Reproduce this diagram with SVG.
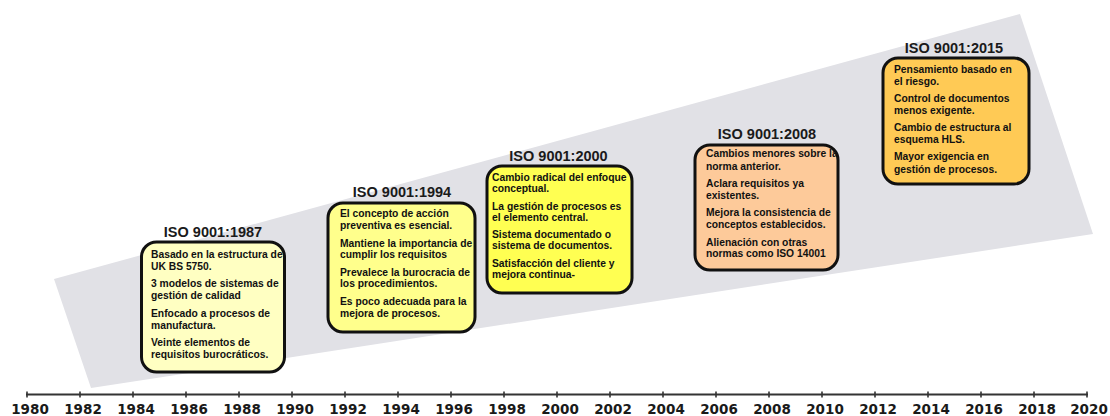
<svg xmlns="http://www.w3.org/2000/svg" width="1110" height="416" viewBox="0 0 1110 416">
<style>
.band{fill:#e1e1e6}
.box{stroke:#111;stroke-width:3}
.title{font-family:"Liberation Sans",Arial,sans-serif;font-weight:bold;font-size:14.5px;fill:#1a1a1a;text-anchor:middle}
.body{font-family:"Liberation Sans",Arial,sans-serif;font-weight:bold;font-size:10.3px;fill:#111}
.axis{stroke:#333;stroke-width:2;fill:none}
.tick{stroke:#333;stroke-width:1.6}
.yr{font-family:"DejaVu Sans",Verdana,sans-serif;font-weight:bold;font-size:13.5px;fill:#1a1a1a;text-anchor:middle}
</style>
<rect width="1110" height="416" fill="#ffffff"/>
<polygon class="band" points="54,279 1020,14 1093,234 91,388"/>

<g id="node-1987">
<text class="title" x="213" y="237">ISO 9001:1987</text>
<rect class="box" x="141.5" y="242" width="143" height="130" rx="15" fill="#ffffc2"/>
<text class="body">
<tspan x="151" y="258">Basado en la estructura de</tspan>
<tspan x="151" y="270">UK BS 5750.</tspan>
<tspan x="151" y="287">3 modelos de sistemas de</tspan>
<tspan x="151" y="299">gestión de calidad</tspan>
<tspan x="151" y="317">Enfocado a procesos de</tspan>
<tspan x="151" y="329">manufactura.</tspan>
<tspan x="151" y="346">Veinte  elementos de</tspan>
<tspan x="151" y="358">requisitos burocráticos.</tspan>
</text>
</g>

<g id="node-1994">
<text class="title" x="402" y="197">ISO 9001:1994</text>
<rect class="box" x="328" y="203" width="147" height="129" rx="15" fill="#ffff8c"/>
<text class="body">
<tspan x="340" y="217">El concepto de acción</tspan>
<tspan x="340" y="229">preventiva es esencial.</tspan>
<tspan x="340" y="247">Mantiene la importancia de</tspan>
<tspan x="340" y="258">cumplir los requisitos</tspan>
<tspan x="340" y="276">Prevalece la burocracia de</tspan>
<tspan x="340" y="287">los procedimientos.</tspan>
<tspan x="340" y="305">Es poco adecuada para la</tspan>
<tspan x="340" y="317">mejora de procesos.</tspan>
</text>
</g>

<g id="node-2000">
<text class="title" x="558.5" y="161">ISO 9001:2000</text>
<rect class="box" x="487" y="166" width="145" height="127" rx="15" fill="#ffff52"/>
<text class="body">
<tspan x="492" y="181">Cambio radical del enfoque</tspan>
<tspan x="492" y="192">conceptual.</tspan>
<tspan x="492" y="210">La gestión de procesos es</tspan>
<tspan x="492" y="221">el elemento central.</tspan>
<tspan x="492" y="238">Sistema documentado o</tspan>
<tspan x="492" y="249">sistema de documentos.</tspan>
<tspan x="492" y="267">Satisfacción del cliente y</tspan>
<tspan x="492" y="278">mejora continua-</tspan>
</text>
</g>

<g id="node-2008">
<text class="title" x="767" y="139">ISO 9001:2008</text>
<rect class="box" x="695" y="145" width="143" height="125" rx="15" fill="#fdca9a"/>
<text class="body">
<tspan x="706" y="157">Cambios menores sobre la</tspan>
<tspan x="706" y="170">norma anterior.</tspan>
<tspan x="706" y="187">Aclara requisitos ya</tspan>
<tspan x="706" y="199">existentes.</tspan>
<tspan x="706" y="216">Mejora la consistencia de</tspan>
<tspan x="706" y="228">conceptos establecidos.</tspan>
<tspan x="706" y="246">Alienación con otras</tspan>
<tspan x="706" y="257">normas como ISO 14001</tspan>
</text>
</g>

<g id="node-2015">
<text class="title" x="954" y="53">ISO 9001:2015</text>
<rect class="box" x="883" y="58" width="146" height="126" rx="15" fill="#ffca55"/>
<text class="body">
<tspan x="894" y="73">Pensamiento basado en</tspan>
<tspan x="894" y="85">el riesgo.</tspan>
<tspan x="894" y="102">Control de documentos</tspan>
<tspan x="894" y="114">menos exigente.</tspan>
<tspan x="894" y="131">Cambio de estructura al</tspan>
<tspan x="894" y="143">esquema HLS.</tspan>
<tspan x="894" y="160">Mayor exigencia en</tspan>
<tspan x="894" y="173">gestión de procesos.</tspan>
</text>
</g>

<g id="timeline">
<line class="axis" x1="26" y1="394.5" x2="1088" y2="394.5"/>
<g class="tick">
<line x1="27" y1="391.5" x2="27" y2="397.5"/>
<line x1="80" y1="391.5" x2="80" y2="397.5"/>
<line x1="133" y1="391.5" x2="133" y2="397.5"/>
<line x1="186" y1="391.5" x2="186" y2="397.5"/>
<line x1="239" y1="391.5" x2="239" y2="397.5"/>
<line x1="292" y1="391.5" x2="292" y2="397.5"/>
<line x1="345" y1="391.5" x2="345" y2="397.5"/>
<line x1="398" y1="391.5" x2="398" y2="397.5"/>
<line x1="451" y1="391.5" x2="451" y2="397.5"/>
<line x1="504" y1="391.5" x2="504" y2="397.5"/>
<line x1="557" y1="391.5" x2="557" y2="397.5"/>
<line x1="610" y1="391.5" x2="610" y2="397.5"/>
<line x1="663" y1="391.5" x2="663" y2="397.5"/>
<line x1="716" y1="391.5" x2="716" y2="397.5"/>
<line x1="769" y1="391.5" x2="769" y2="397.5"/>
<line x1="822" y1="391.5" x2="822" y2="397.5"/>
<line x1="875" y1="391.5" x2="875" y2="397.5"/>
<line x1="928" y1="391.5" x2="928" y2="397.5"/>
<line x1="981" y1="391.5" x2="981" y2="397.5"/>
<line x1="1034" y1="391.5" x2="1034" y2="397.5"/>
<line x1="1087" y1="391.5" x2="1087" y2="397.5"/>
</g>
<text class="yr" x="30" y="414">1980</text>
<text class="yr" x="83" y="414">1982</text>
<text class="yr" x="136" y="414">1984</text>
<text class="yr" x="189" y="414">1986</text>
<text class="yr" x="242" y="414">1988</text>
<text class="yr" x="295" y="414">1990</text>
<text class="yr" x="348" y="414">1992</text>
<text class="yr" x="401" y="414">1994</text>
<text class="yr" x="454" y="414">1996</text>
<text class="yr" x="507" y="414">1998</text>
<text class="yr" x="560" y="414">2000</text>
<text class="yr" x="613" y="414">2002</text>
<text class="yr" x="666" y="414">2004</text>
<text class="yr" x="719" y="414">2006</text>
<text class="yr" x="772" y="414">2008</text>
<text class="yr" x="825" y="414">2010</text>
<text class="yr" x="878" y="414">2012</text>
<text class="yr" x="931" y="414">2014</text>
<text class="yr" x="984" y="414">2016</text>
<text class="yr" x="1037" y="414">2018</text>
<text class="yr" x="1089" y="414">2020</text>
</g>
</svg>
